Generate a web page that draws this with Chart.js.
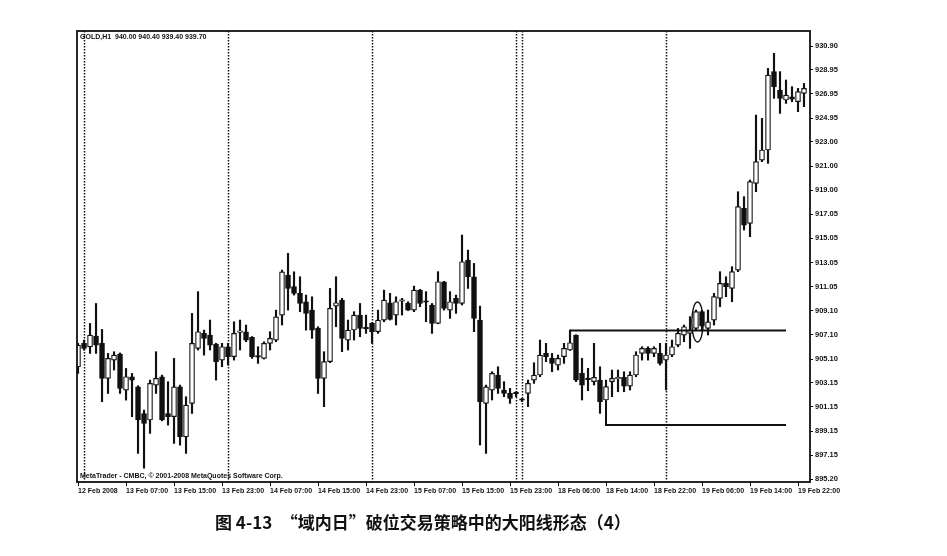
<!DOCTYPE html>
<html>
<head>
<meta charset="utf-8">
<script src="https://cdn.jsdelivr.net/npm/chart.js@4.4.1/dist/chart.umd.min.js"></script>
<style>
  html, body { margin: 0; padding: 0; background: #fff; }
  #wrap { position: relative; width: 947px; height: 556px; }
  #caption {
    position: absolute; left: 215px; top: 509px;
    font: bold 17px "Noto Sans CJK SC", sans-serif; color: #111; white-space: pre;
  }
</style>
</head>
<body>
<div id="wrap">
  <canvas id="chart" width="947" height="556"></canvas>
  <div id="caption">图 4-13　“域内日”破位交易策略中的大阳线形态（4）</div>
</div>
<script>
// hourly bars, GOLD H1
const days = [["12 Feb", 23, 23], ["13 Feb", 0, 23], ["14 Feb", 0, 23], ["15 Feb", 0, 23],
              ["17 Feb", 23, 23], ["18 Feb", 0, 23], ["19 Feb", 0, 23]];
const categories = [];
days.forEach(d => {
  for (let h = d[1]; h <= d[2]; h++) categories.push(d[0] + " " + String(h).padStart(2, "0") + ":00");
});

const open = [
  904.46, 906.39, 906.11, 906.99, 906.39, 903.50, 905.01, 905.51, 902.54, 903.64,
  902.81, 900.61, 900.07, 902.95, 903.64, 900.61, 900.34, 902.81, 898.69, 901.44,
  905.97, 907.21, 907.07, 906.33, 905.01, 906.11, 905.29, 907.30, 907.35, 906.88,
  905.29, 905.15, 906.39, 906.66, 908.72, 912.02, 911.06, 910.51, 909.82, 909.13,
  907.62, 903.50, 904.88, 909.46, 909.96, 906.66, 907.49, 908.72, 907.62, 908.04,
  907.35, 908.31, 909.74, 908.72, 909.86, 909.68, 909.13, 910.78, 909.82, 909.55,
  908.04, 911.47, 909.13, 910.10, 909.68, 913.26, 911.88, 908.31, 901.44, 902.54,
  903.78, 902.54, 902.26, 902.28, 901.72, 902.26, 903.36, 903.78, 905.56, 905.15,
  904.60, 905.29, 905.84, 907.07, 903.91, 903.44, 903.23, 903.36, 901.72, 903.23,
  903.46, 903.58, 902.87, 903.78, 905.56, 905.98, 905.56, 905.56, 905.01, 905.43,
  906.25, 907.07, 907.21, 907.63, 909.00, 907.63, 908.31, 910.10, 911.33, 910.92,
  912.43, 917.52, 916.28, 919.58, 921.50, 922.33, 928.79, 927.27, 926.45, 926.72,
  926.31, 927.00
];
const high = [
  906.39, 906.66, 908.03, 909.68, 907.54, 905.56, 905.70, 905.60, 904.32, 903.91,
  902.90, 900.89, 903.36, 905.70, 903.77, 903.23, 905.15, 902.95, 901.99, 908.86,
  910.65, 907.48, 908.31, 906.40, 906.39, 906.39, 908.17, 908.31, 907.90, 906.95,
  906.11, 906.52, 907.35, 909.13, 912.43, 913.81, 912.29, 911.88, 910.37, 910.23,
  907.76, 905.70, 910.92, 911.88, 910.10, 908.31, 909.00, 909.68, 908.72, 908.10,
  909.13, 910.78, 910.51, 910.23, 910.10, 909.82, 911.11, 910.84, 910.65, 909.68,
  912.30, 911.50, 910.65, 910.37, 915.32, 914.08, 912.98, 909.46, 902.95, 904.05,
  904.46, 903.23, 902.68, 902.40, 901.85, 903.36, 904.79, 906.66, 906.39, 905.56,
  905.43, 906.39, 907.49, 907.10, 905.15, 904.33, 906.39, 904.46, 903.36, 904.19,
  904.19, 904.05, 904.05, 905.70, 906.11, 906.11, 906.11, 906.39, 906.39, 906.66,
  907.62, 907.90, 908.59, 909.14, 909.10, 909.14, 910.51, 912.30, 911.88, 912.71,
  918.89, 918.48, 919.86, 925.21, 924.94, 929.06, 930.30, 928.79, 928.10, 927.55,
  927.41, 927.82
];
const low = [
  903.91, 905.84, 905.56, 905.56, 901.58, 902.26, 904.19, 902.26, 901.71, 900.34,
  897.32, 896.10, 898.97, 902.26, 900.00, 899.65, 898.14, 898.00, 897.32, 900.61,
  905.84, 905.42, 905.84, 903.36, 904.46, 904.60, 905.01, 905.84, 906.52, 905.15,
  904.74, 905.10, 905.84, 906.52, 907.90, 909.13, 910.37, 909.00, 907.48, 906.80,
  902.26, 901.17, 904.80, 907.76, 905.70, 905.84, 906.66, 906.94, 907.21, 906.39,
  907.21, 908.17, 908.31, 907.90, 908.72, 909.10, 909.00, 909.41, 908.17, 907.21,
  908.00, 909.13, 908.45, 908.86, 909.55, 910.92, 907.35, 898.01, 897.32, 901.72,
  902.26, 901.99, 901.44, 901.99, 901.58, 901.17, 903.09, 903.64, 904.88, 904.05,
  904.19, 904.74, 905.80, 903.23, 901.72, 902.49, 902.95, 900.62, 901.70, 901.99,
  902.40, 902.40, 902.54, 903.64, 905.01, 905.01, 905.29, 904.60, 902.54, 905.29,
  906.11, 906.53, 905.98, 907.49, 907.40, 907.08, 907.90, 909.41, 910.24, 909.82,
  912.30, 915.73, 915.18, 918.89, 921.37, 921.23, 926.59, 925.35, 926.17, 926.31,
  925.49, 925.90
];
const close = [
  906.25, 905.97, 907.07, 906.25, 903.50, 905.15, 905.42, 902.68, 903.64, 903.36,
  900.07, 899.79, 903.09, 903.50, 900.07, 900.34, 902.81, 898.69, 901.30, 906.39,
  907.35, 906.80, 906.25, 904.87, 906.11, 905.29, 907.21, 907.40, 906.66, 905.29,
  905.25, 906.39, 906.80, 908.58, 912.29, 910.92, 910.51, 909.68, 908.86, 907.48,
  903.50, 904.88, 909.27, 909.74, 906.80, 907.49, 908.72, 907.62, 907.58, 907.35,
  908.31, 909.96, 908.37, 909.82, 909.90, 909.13, 910.78, 909.68, 909.78, 908.04,
  911.47, 909.27, 909.82, 909.68, 913.12, 911.88, 908.45, 901.58, 902.81, 903.91,
  902.68, 902.26, 901.85, 902.24, 901.70, 903.09, 903.78, 905.42, 905.29, 904.74,
  905.15, 905.98, 906.44, 903.36, 902.95, 903.40, 903.58, 901.58, 902.82, 903.50,
  903.50, 902.87, 903.78, 905.43, 905.98, 905.56, 905.98, 904.74, 905.43, 906.11,
  907.21, 907.76, 907.49, 909.00, 907.80, 908.17, 910.24, 911.33, 911.06, 912.30,
  917.66, 916.14, 919.72, 921.37, 922.33, 928.51, 927.55, 926.59, 926.86, 926.53,
  927.14, 927.41
];

const yTicks = [930.90, 928.95, 926.95, 924.95, 923.00, 921.00, 919.00, 917.05, 915.05, 913.05,
                911.05, 909.10, 907.10, 905.10, 903.15, 901.15, 899.15, 897.15, 895.20];
const xTickIdx = [0, 8, 16, 24, 32, 40, 48, 56, 64, 72, 80, 88, 96, 104, 112, 120];
const xTickText = ["12 Feb 2008", "13 Feb 07:00", "13 Feb 15:00", "13 Feb 23:00", "14 Feb 07:00",
                   "14 Feb 15:00", "14 Feb 23:00", "15 Feb 07:00", "15 Feb 15:00", "15 Feb 23:00",
                   "18 Feb 06:00", "18 Feb 14:00", "18 Feb 22:00", "19 Feb 06:00", "19 Feb 14:00",
                   "19 Feb 22:00"];
const daySeps = [1, 25, 49, 73, 74, 98];
const upperLine = [[82, 907.45], [118, 907.45]];
const lowerLine = [[88, 901.70], [88, 899.65], [118, 899.65]];
const ring = [102.3, 104.2, 906.5, 909.8]; // x from, x to, price low, price high
const headerText = "GOLD,H1  940.00 940.40 939.40 939.70";
const footerText = "MetaTrader - CMBC, © 2001-2008 MetaQuotes Software Corp.";

const ink = "#111";
const smallFont = { family: "Liberation Sans", size: 7, weight: "bold" };

const wicks = categories.map((c, i) => ({ x: i, y: [low[i], high[i]] }));
const bodies = categories.map((c, i) => ({ x: i, y: [open[i], close[i]] }));
const bodyFill = categories.map((c, i) => close[i] >= open[i] ? "#fff" : ink);

const decor = {
  id: "decor",
  beforeDatasetsDraw(chart) {
    const { ctx, chartArea: a, scales: { x } } = chart;
    ctx.save();
    ctx.strokeStyle = ink;
    ctx.lineWidth = 1.5;
    ctx.setLineDash([1.5, 1.5]);
    daySeps.forEach(i => {
      const px = Math.round(x.getPixelForValue(i)) + 0.5;
      ctx.beginPath();
      ctx.moveTo(px, a.top);
      ctx.lineTo(px, a.bottom);
      ctx.stroke();
    });
    ctx.restore();
  },
  afterDatasetsDraw(chart) {
    const { ctx, scales: { x, y } } = chart;
    const x0 = x.getPixelForValue(ring[0]), x1 = x.getPixelForValue(ring[1]);
    const y0 = y.getPixelForValue(ring[3]), y1 = y.getPixelForValue(ring[2]);
    ctx.save();
    ctx.strokeStyle = ink;
    ctx.lineWidth = 1.4;
    ctx.beginPath();
    ctx.ellipse((x0 + x1) / 2, (y0 + y1) / 2, (x1 - x0) / 2, (y1 - y0) / 2, 0, 0, Math.PI * 2);
    ctx.stroke();
    ctx.restore();
  },
  afterDraw(chart) {
    const { ctx, chartArea: a } = chart;
    ctx.save();
    ctx.strokeStyle = ink;
    ctx.lineWidth = 1.8;
    ctx.strokeRect(a.left, a.top, a.right - a.left, a.bottom - a.top);
    ctx.fillStyle = ink;
    ctx.font = 'bold 7px "Liberation Sans"';
    ctx.textBaseline = "alphabetic";
    ctx.fillText(headerText, a.left + 3, a.top + 8);
    ctx.fillText(footerText, a.left + 3, a.bottom - 4);
    ctx.restore();
  }
};

new Chart(document.getElementById("chart"), {
  type: "bar",
  data: {
    datasets: [
      {
        type: "line",
        data: upperLine.map(p => ({ x: p[0], y: p[1] })),
        borderColor: ink, borderWidth: 2, pointRadius: 0, fill: false, order: 0
      },
      {
        type: "line",
        data: lowerLine.map(p => ({ x: p[0], y: p[1] })),
        borderColor: ink, borderWidth: 2, pointRadius: 0, fill: false, order: 0
      },
      {
        data: bodies,
        backgroundColor: bodyFill,
        borderColor: ink,
        borderWidth: 1.2,
        borderSkipped: false,
        barThickness: 5,
        minBarLength: 1.5,
        grouped: false,
        order: 1
      },
      {
        data: wicks,
        backgroundColor: ink,
        borderWidth: 0,
        barThickness: 1.5,
        grouped: false,
        order: 2
      }
    ]
  },
  options: {
    responsive: false,
    animation: false,
    events: [],
    layout: { padding: { left: 77, top: 31, right: 97, bottom: 58 } },
    plugins: { legend: { display: false }, tooltip: { enabled: false } },
    scales: {
      x: {
        type: "linear",
        min: -0.17,
        max: 122,
        offset: false,
        position: "bottom",
        afterFit: s => { s.height = 16; },
        afterBuildTicks: s => { s.ticks = xTickIdx.map(v => ({ value: v })); },
        ticks: {
          autoSkip: false, maxRotation: 0, minRotation: 0, align: "start", padding: 1,
          color: ink, font: smallFont,
          callback: v => xTickText[xTickIdx.indexOf(v)]
        },
        grid: { drawOnChartArea: false, offset: false, tickLength: 4, color: ink },
        border: { display: false }
      },
      y: {
        position: "right",
        min: 894.96,
        max: 932.14,
        afterFit: s => { s.width = 40; },
        afterBuildTicks: s => { s.ticks = yTicks.map(v => ({ value: v })); },
        ticks: {
          color: ink, padding: 2,
          font: { family: "Liberation Sans", size: 7.5, weight: "bold" },
          callback: v => v.toFixed(2)
        },
        grid: { drawOnChartArea: false, tickLength: 3, color: ink },
        border: { display: false }
      }
    }
  },
  plugins: [decor]
});
</script>
</body>
</html>
